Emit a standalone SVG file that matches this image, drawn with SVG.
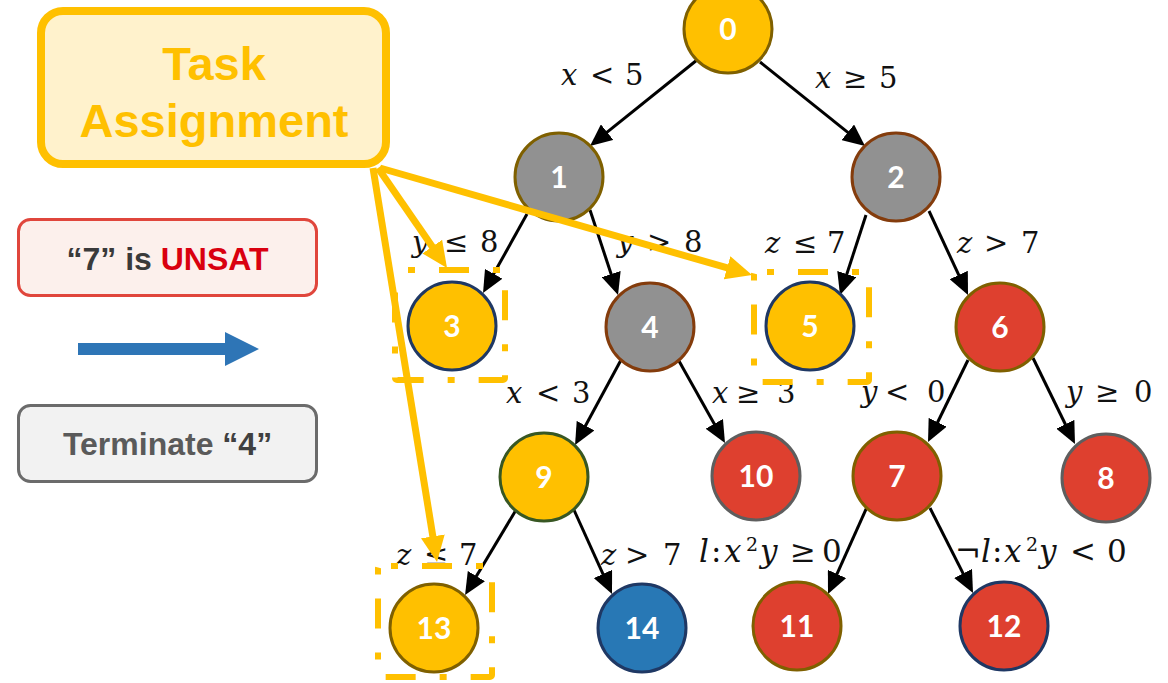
<svg xmlns="http://www.w3.org/2000/svg" width="1168" height="683" viewBox="0 0 1168 683">
  <style>
    .edge { stroke: #000; stroke-width: 3; fill: none; marker-end: url(#head); }
    .lbl { font-family: "DejaVu Serif", "Liberation Serif", serif; font-size: 29px; fill: #111; }
    .big { font-size: 31px; }
    .v { font-style: italic; }
    .sup { font-size: 19px; }
    .node circle { stroke-width: 3; }
    .node text { font-family: Lato, "Liberation Sans", sans-serif; font-weight: bold; font-size: 30px; fill: #fff; text-anchor: middle; }
    .yel { fill: #FFC000; }
    .gry { fill: #919191; }
    .red { fill: #DE402F; }
    .blu { fill: #2878B5; }
    .bOl { stroke: #7F6000; }
    .bBr { stroke: #843C0C; }
    .bNv { stroke: #1F3864; }
    .bGy { stroke: #5E5E5E; }
    .bGn { stroke: #385723; }
    .callout { stroke: #FFC000; stroke-width: 7; fill: none; marker-end: url(#yhead); }
    .focus { stroke: #FFC000; stroke-width: 6; fill: none; stroke-dasharray: 30 24 7 24; stroke-dashoffset: 43; }
    .panel { font-family: "Liberation Sans", Arial, sans-serif; font-weight: bold; text-anchor: middle; }
  </style>
  <defs>
    <marker id="head" viewBox="0 0 22 20" markerWidth="22" markerHeight="20" refX="12" refY="10" orient="auto" markerUnits="userSpaceOnUse">
      <path d="M0,0 L22,10 L0,20 z" fill="#000"/>
    </marker>
    <marker id="yhead" viewBox="0 0 26 24" markerWidth="26" markerHeight="24" refX="14" refY="12" orient="auto" markerUnits="userSpaceOnUse">
      <path d="M0,0 L26,12 L0,24 z" fill="#FFC000"/>
    </marker>
  </defs>

  <rect width="1168" height="683" fill="#fff"/>

  <!-- tree edges -->
  <g id="connectors">
    <line class="edge" x1="697" y1="60" x2="597.8" y2="139.7"/>
    <line class="edge" x1="760" y1="62" x2="857.2" y2="139.8"/>
    <line class="edge" x1="527" y1="214" x2="487.9" y2="284.3"/>
    <line class="edge" x1="590" y1="210" x2="614.9" y2="285.5"/>
    <line class="edge" x1="866" y1="215" x2="843.1" y2="285.5"/>
    <line class="edge" x1="929" y1="211" x2="963.8" y2="285.9"/>
    <line class="edge" x1="621" y1="360" x2="579.8" y2="436.2"/>
    <line class="edge" x1="679" y1="361" x2="720.1" y2="434.3"/>
    <line class="edge" x1="968" y1="360" x2="932.4" y2="433.0"/>
    <line class="edge" x1="1033" y1="358" x2="1070.6" y2="435.0"/>
    <line class="edge" x1="516" y1="510" x2="470.2" y2="586.4"/>
    <line class="edge" x1="574" y1="510" x2="607.9" y2="584.9"/>
    <line class="edge" x1="867" y1="507" x2="832.1" y2="584.9"/>
    <line class="edge" x1="930" y1="508" x2="968.5" y2="584.1"/>
  </g>

  <!-- branch conditions -->
  <g id="edge-labels">
    <text class="lbl" y="85"><tspan class="v" x="561">x</tspan><tspan x="590">&lt;</tspan><tspan x="625">5</tspan></text>
    <text class="lbl" y="88"><tspan class="v" x="815">x</tspan><tspan x="843">≥</tspan><tspan x="879">5</tspan></text>
    <text class="lbl" y="252"><tspan class="v" x="412">y</tspan><tspan x="444">≤</tspan><tspan x="480">8</tspan></text>
    <text class="lbl" y="252"><tspan class="v" x="617">y</tspan><tspan x="647">&gt;</tspan><tspan x="684">8</tspan></text>
    <text class="lbl" y="253"><tspan class="v" x="765">z</tspan><tspan x="793">≤</tspan><tspan x="827">7</tspan></text>
    <text class="lbl" y="253"><tspan class="v" x="957">z</tspan><tspan x="984">&gt;</tspan><tspan x="1021">7</tspan></text>
    <text class="lbl" y="403"><tspan class="v" x="506">x</tspan><tspan x="536">&lt;</tspan><tspan x="572">3</tspan></text>
    <text class="lbl" y="403"><tspan class="v" x="712">x</tspan><tspan x="736">≥</tspan><tspan x="777">3</tspan></text>
    <text class="lbl" y="402"><tspan class="v" x="861">y</tspan><tspan x="885">&lt;</tspan><tspan x="927">0</tspan></text>
    <text class="lbl" y="402"><tspan class="v" x="1066">y</tspan><tspan x="1095">≥</tspan><tspan x="1134">0</tspan></text>
    <text class="lbl" y="565"><tspan class="v" x="396">z</tspan><tspan x="424">≤</tspan><tspan x="459">7</tspan></text>
    <text class="lbl" y="565"><tspan class="v" x="601">z</tspan><tspan x="625">&gt;</tspan><tspan x="663">7</tspan></text>
    <text class="lbl big" y="562"><tspan class="v" x="699">l</tspan><tspan x="711">:</tspan><tspan class="v" x="724">x</tspan><tspan class="sup" x="746" y="551">2</tspan><tspan class="v" x="760" y="562">y</tspan><tspan x="790">≥</tspan><tspan x="822">0</tspan></text>
    <text class="lbl big" y="562"><tspan x="955">¬</tspan><tspan class="v" x="981">l</tspan><tspan x="992">:</tspan><tspan class="v" x="1004">x</tspan><tspan class="sup" x="1026" y="551">2</tspan><tspan class="v" x="1039" y="562">y</tspan><tspan x="1070">&lt;</tspan><tspan x="1107">0</tspan></text>
  </g>

  <!-- tree nodes -->
  <g id="n0" class="node"><circle class="yel bOl" cx="728" cy="29" r="44"/><text x="728" y="40">0</text></g>
  <g id="n1" class="node"><circle class="gry bOl" cx="559" cy="177" r="44"/><text x="559" y="188">1</text></g>
  <g id="n2" class="node"><circle class="gry bBr" cx="896" cy="177" r="44"/><text x="896" y="188">2</text></g>
  <g id="n3" class="node"><circle class="yel bNv" cx="452" cy="326" r="44"/><text x="452" y="337">3</text></g>
  <g id="n4" class="node"><circle class="gry bBr" cx="650" cy="327" r="44"/><text x="650" y="338">4</text></g>
  <g id="n5" class="node"><circle class="yel bNv" cx="810" cy="326" r="44"/><text x="810" y="337">5</text></g>
  <g id="n6" class="node"><circle class="red bOl" cx="1000" cy="327" r="44"/><text x="1000" y="338">6</text></g>
  <g id="n7" class="node"><circle class="red bOl" cx="897" cy="476" r="44"/><text x="897" y="487">7</text></g>
  <g id="n8" class="node"><circle class="red bGy" cx="1106" cy="478" r="44"/><text x="1106" y="489">8</text></g>
  <g id="n9" class="node"><circle class="yel bGn" cx="544" cy="477" r="44"/><text x="544" y="488">9</text></g>
  <g id="n10" class="node"><circle class="red bGy" cx="756" cy="476" r="44"/><text x="756" y="487">10</text></g>
  <g id="n11" class="node"><circle class="red bOl" cx="797" cy="626" r="44"/><text x="797" y="637">11</text></g>
  <g id="n12" class="node"><circle class="red bNv" cx="1004" cy="626" r="44"/><text x="1004" y="637">12</text></g>
  <g id="n13" class="node"><circle class="yel bOl" cx="434" cy="628" r="44"/><text x="434" y="639">13</text></g>
  <g id="n14" class="node"><circle class="blu bNv" cx="642" cy="628" r="44"/><text x="642" y="639">14</text></g>

  <!-- task assignment callout -->
  <g id="task-assignment">
    <rect x="41" y="11" width="345" height="153" rx="22" fill="#FFF2CC" stroke="#FFC000" stroke-width="8"/>
    <text class="panel" x="214" y="80" font-size="47" fill="#FFC000">Task</text>
    <text class="panel" x="214" y="137" font-size="47" fill="#FFC000">Assignment</text>
  </g>
  <g id="assignment-arrows">
    <line class="callout" x1="378" y1="168" x2="440.2" y2="258.1"/>
    <line class="callout" x1="380" y1="168" x2="740.5" y2="271.7"/>
    <line class="callout" x1="373" y1="168" x2="435.1" y2="550.2"/>
  </g>
  <g id="assigned-frames">
    <rect class="focus" x="395" y="270" width="110" height="110" rx="2"/>
    <rect class="focus" x="754" y="272" width="115" height="110" rx="2"/>
    <rect class="focus" x="378" y="566" width="114" height="111" rx="2"/>
  </g>

  <!-- legend on the left -->
  <g id="unsat-box">
    <rect x="18.5" y="219.5" width="298" height="76" rx="12" fill="#FCF0EC" stroke="#E0463C" stroke-width="3"/>
    <text class="panel" x="167.5" y="270" font-size="32"><tspan fill="#3A3A3A">“7” is </tspan><tspan fill="#D9000F">UNSAT</tspan></text>
  </g>
  <g id="step-arrow">
    <path d="M78,343 H225 V332 L259,349 L225,366 V355 H78 z" fill="#2E75B6"/>
  </g>
  <g id="terminate-box">
    <rect x="18.5" y="405.5" width="298" height="76" rx="12" fill="#F2F2F2" stroke="#6B6B6B" stroke-width="3"/>
    <text class="panel" x="167.5" y="455" font-size="32"><tspan fill="#5A5A5A">Terminate </tspan><tspan fill="#404040">“4”</tspan></text>
  </g>
</svg>
